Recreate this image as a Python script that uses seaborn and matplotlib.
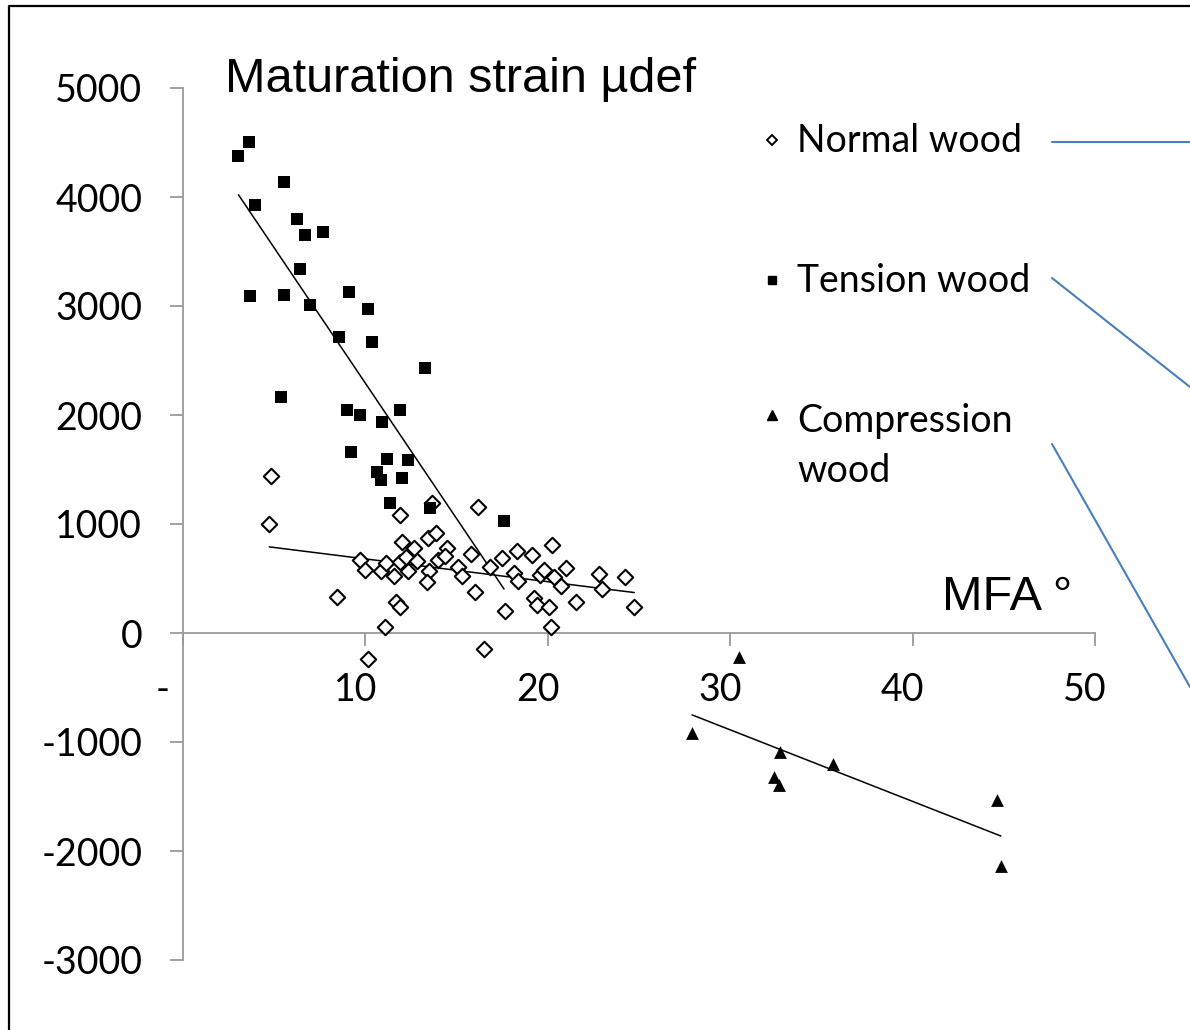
"""
Maturation strain versus microfibril angle (MFA)
for normal, tension and compression wood.
"""

import matplotlib
matplotlib.use("Agg")

import matplotlib.pyplot as plt
import matplotlib.transforms as mtransforms
from matplotlib.lines import Line2D
import pandas as pd
import seaborn as sns


# ==========================================================
# Data
# ==========================================================

normal_mfa = [
    4.85, 4.73, 11.87, 13.64, 16.19, 11.99, 12.64, 13.44, 13.86, 14.49,
    9.73, 9.98, 10.84, 11.14, 11.56, 11.87, 12.23, 12.35, 12.82, 13.48,
    13.35, 13.99, 14.38, 15.09, 15.27, 15.79, 16.0, 16.85, 8.45, 11.69,
    11.87, 11.08, 10.13, 16.5, 17.51, 17.66, 18.13, 18.33, 18.39, 19.12,
    19.27, 19.41, 19.56, 19.8, 20.07, 20.15, 20.22, 20.35, 20.70, 20.99,
    21.54, 22.79, 22.97, 24.23, 24.74,
]
normal_strain = [
    1440, 997, 1080, 1196, 1156, 838, 783, 875, 915, 777,
    670, 578, 572, 645, 523, 654, 700, 572, 661, 572,
    465, 670, 706, 608, 523, 725, 373, 603, 333, 282,
    236, 58, -241, -144, 685, 205, 548, 755, 480, 718,
    318, 257, 532, 578, 241, 58, 805, 517, 431, 599,
    287, 538, 401, 517, 236,
]

tension_mfa = [
    3.04, 3.64, 5.51, 3.92, 6.23, 6.70, 7.66, 6.39, 3.70, 5.51,
    6.96, 9.08, 10.13, 8.53, 10.35, 13.26, 5.35, 8.97, 9.73, 11.88,
    10.90, 9.19, 11.17, 12.32, 10.62, 10.84, 12.0, 11.34, 13.53, 17.6,
]
tension_strain = [
    4379, 4502, 4135, 3924, 3795, 3649, 3676, 3337, 3089, 3098,
    3006, 3126, 2970, 2713, 2667, 2428, 2162, 2043, 2000, 2043,
    1933, 1658, 1593, 1587, 1474, 1404, 1422, 1190, 1147, 1025,
]

compression_mfa = [30.46, 27.91, 32.71, 32.38, 32.65, 35.66, 44.65, 44.84]
compression_strain = [-217, -920, -1089, -1324, -1394, -1205, -1532, -2135]

x_ticks = [0, 10, 20, 30, 40, 50]
x_tick_labels = ["-  ", "10", "20", "30", "40", "50"]
y_ticks = [-3000, -2000, -1000, 0, 1000, 2000, 3000, 4000, 5000]
y_tick_labels = ["-3000", "-2000", "-1000", "0", "1000", "2000", "3000", "4000", "5000"]

legend_labels = ["Normal wood", "Tension wood", "Compression\nwood"]


# ==========================================================
# Helpers
# ==========================================================

W, H = 1190, 1030


def fx(px):
    return px / W


def fy(py):
    return 1 - py / H


# ==========================================================
# Figure
# ==========================================================

sns.set_style("white")
plt.rcParams["font.family"] = ["Lato", "DejaVu Sans"]
plt.rcParams["text.color"] = "black"
plt.rcParams["xtick.labelcolor"] = "black"
plt.rcParams["ytick.labelcolor"] = "black"

fig = plt.figure(figsize=(W / 100, H / 100), dpi=100)
ax = fig.add_axes([fx(183), fy(960), fx(1095) - fx(183), fy(88) - fy(960)])

groups = [
    (normal_mfa, normal_strain, "D", dict(s=62, facecolor="white", edgecolor="black", linewidth=1.5)),
    (tension_mfa, tension_strain, "s", dict(s=66, color="black", linewidth=0)),
    (compression_mfa, compression_strain, "^", dict(s=85, color="black", linewidth=0)),
]

for mfa, strain, marker, style in groups:

    frame = pd.DataFrame({"mfa": mfa, "strain": strain})

    sns.scatterplot(
        data=frame,
        x="mfa",
        y="strain",
        marker=marker,
        ax=ax,
        zorder=3,
        **style
    )

    sns.regplot(
        data=frame,
        x="mfa",
        y="strain",
        scatter=False,
        ci=None,
        truncate=True,
        color="black",
        line_kws=dict(linewidth=1.1),
        ax=ax
    )

ax.set_xlim(0, 50)
ax.set_ylim(-3000, 5000)
ax.set_xlabel("")
ax.set_ylabel("")

axis_grey = "#9a9a9a"

for side in ["top", "right"]:
    ax.spines[side].set_visible(False)

ax.spines["bottom"].set_position(("data", 0))
for side in ["bottom", "left"]:
    ax.spines[side].set_color(axis_grey)
    ax.spines[side].set_linewidth(1.3)

ax.set_xticks(x_ticks)
ax.set_xticklabels(x_tick_labels)
ax.set_yticks(y_ticks)
ax.set_yticklabels(y_tick_labels)

ax.tick_params(axis="x", bottom=True, direction="out", length=9.4, width=1.3,
               color=axis_grey, pad=19, labelsize=27, labelcolor="black")
ax.tick_params(axis="y", left=True, direction="out", length=9.4, width=1.3,
               color=axis_grey, pad=20, labelsize=27, labelcolor="black")

shift = mtransforms.ScaledTranslation(-10 / 100, 0, fig.dpi_scale_trans)
for label in ax.get_xticklabels():
    label.set_transform(label.get_transform() + shift)

# ----------------------------------------------------------
# Titles
# ----------------------------------------------------------

fig.text(fx(225), fy(92), "Maturation strain µdef", fontsize=35,
         family=["Liberation Sans", "DejaVu Sans"], va="baseline")
fig.text(fx(942), fy(610), "MFA °", fontsize=35,
         family=["Liberation Sans", "DejaVu Sans"], va="baseline")

# ----------------------------------------------------------
# Legend drawn by hand
# ----------------------------------------------------------

legend_markers = [
    ("D", 140, dict(markersize=5.2, markerfacecolor="white", markeredgecolor="black", markeredgewidth=1.4)),
    ("s", 280, dict(markersize=6.2, color="black")),
    ("^", 415, dict(markersize=7.5, color="black")),
]
legend_baselines = [152, 292, 432]
line_step = 50

for (marker, ypix, style), label, base in zip(legend_markers, legend_labels, legend_baselines):

    fig.add_artist(Line2D([fx(772)], [fy(ypix)], marker=marker,
                          linestyle="none", transform=fig.transFigure, **style))

    for i, part in enumerate(label.split("\n")):
        fig.text(fx(797), fy(base + i * line_step), part, fontsize=27,
                 va="baseline")

# Leader lines (cut off at the right edge in the source)
leader_color = "#4a7ebb"
leaders = [
    ((1052, 142), (1190, 142)),
    ((1052, 278), (1190, 387)),
    ((1052, 444), (1190, 687)),
]
for (x0, y0), (x1, y1) in leaders:
    fig.add_artist(Line2D([fx(x0), fx(x1)], [fy(y0), fy(y1)],
                          color=leader_color, linewidth=1.5,
                          transform=fig.transFigure))

# Outer frame (left and top edges visible)
fig.add_artist(Line2D([fx(9), fx(9), fx(1200)], [fy(1040), fy(5.5), fy(5.5)],
                      color="black", linewidth=1.6, transform=fig.transFigure))

fig.savefig("out.png", dpi=100)
